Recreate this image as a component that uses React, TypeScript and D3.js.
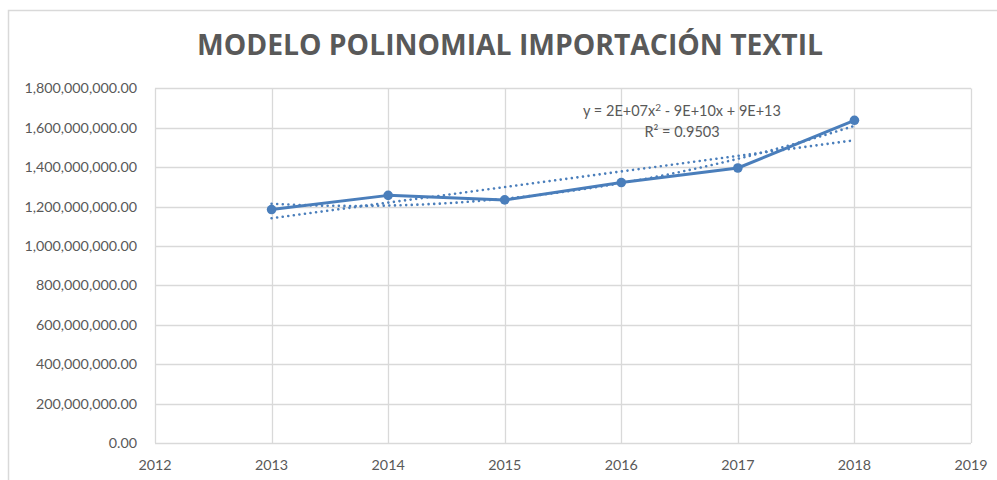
import React from "react";
import * as d3 from "d3";

const years = [2013, 2014, 2015, 2016, 2017, 2018];
const values = [1185e6, 1257e6, 1234e6, 1322e6, 1396e6, 1638e6];
const yTicks = [0, 200e6, 400e6, 600e6, 800e6, 1000e6, 1200e6, 1400e6, 1600e6, 1800e6];
const xTicks = [2012, 2013, 2014, 2015, 2016, 2017, 2018, 2019];
const title = "MODELO POLINOMIAL IMPORTACIÓN TEXTIL";
const equation = ["y = 2E+07x", "2", " - 9E+10x + 9E+13"];
const r2Text = "R² = 0.9503";

function solve3(A: number[][], b: number[]): number[] {
  const M = A.map((r, i) => [...r, b[i]]);
  const n = 3;
  for (let i = 0; i < n; i++) {
    let p = i;
    for (let k = i + 1; k < n; k++) if (Math.abs(M[k][i]) > Math.abs(M[p][i])) p = k;
    [M[i], M[p]] = [M[p], M[i]];
    for (let k = i + 1; k < n; k++) {
      const f = M[k][i] / M[i][i];
      for (let j = i; j <= n; j++) M[k][j] -= f * M[i][j];
    }
  }
  const x = [0, 0, 0];
  for (let i = n - 1; i >= 0; i--) {
    let s = M[i][n];
    for (let j = i + 1; j < n; j++) s -= M[i][j] * x[j];
    x[i] = s / M[i][i];
  }
  return x;
}

export default function App() {
  const W = 997, H = 480;
  const x = d3.scaleLinear().domain([2012, 2019]).range([155, 971]);
  const y = d3.scaleLinear().domain([0, 1800e6]).range([443, 88.4]);
  const fmt = d3.format(",.2f");
  const grey = "#595959";
  const blue = "#4A7EBB";
  const font = "Lato, 'Open Sans', sans-serif";

  const xs = years.map((v) => v - 2013);
  const mx = d3.mean(xs)!, my = d3.mean(values)!;
  const slope = d3.sum(xs.map((v, i) => (v - mx) * (values[i] - my))) / d3.sum(xs.map((v) => (v - mx) ** 2));
  const icpt = my - slope * mx;
  const S = (p: number) => d3.sum(xs.map((v) => v ** p));
  const T = (p: number) => d3.sum(xs.map((v, i) => v ** p * values[i]));
  const [c0, c1, c2] = solve3(
    [[S(0), S(1), S(2)], [S(1), S(2), S(3)], [S(2), S(3), S(4)]],
    [T(0), T(1), T(2)]
  );
  const samples = d3.range(0, 5.001, 0.05);
  const lineGen = d3.line<[number, number]>().x((d) => x(d[0] + 2013)).y((d) => y(d[1]));
  const linPath = lineGen(samples.map((t) => [t, icpt + slope * t]))!;
  const polyPath = lineGen(samples.map((t) => [t, c0 + c1 * t + c2 * t * t]))!;
  const dataPath = lineGen(years.map((yr, i) => [yr - 2013, values[i]]))!;

  return (
    <svg width={W} height={H} style={{ position: "absolute", left: 0, top: 0, display: "block", background: "#fff" }}>
      <rect x={8.5} y={10.5} width={W + 20} height={H + 20} fill="#fff" stroke="#d9d9d9" strokeWidth={1.5} />
      <text x={510} y={55} textAnchor="middle" fontFamily="'Open Sans', sans-serif" fontWeight={700} fontSize={29} fill={grey} textLength={626} lengthAdjust="spacingAndGlyphs">
        {title}
      </text>
      {yTicks.map((t) => (
        <g key={t}>
          <line x1={155} x2={971} y1={Math.round(y(t)) + 0.5} y2={Math.round(y(t)) + 0.5} stroke="#d9d9d9" strokeWidth={1.3} />
          <text x={137} y={y(t) + 5} textAnchor="end" fontFamily={font} fontSize={14.3} fill={grey}>
            {fmt(t)}
          </text>
        </g>
      ))}
      {xTicks.map((t) => (
        <g key={t}>
          <line x1={Math.round(x(t)) + 0.5} x2={Math.round(x(t)) + 0.5} y1={88.4} y2={443} stroke="#d9d9d9" strokeWidth={1.3} />
          <text x={x(t)} y={470} textAnchor="middle" fontFamily={font} fontSize={14.3} fill={grey}>
            {t}
          </text>
        </g>
      ))}
      <path d={dataPath} fill="none" stroke={blue} strokeWidth={3} strokeLinejoin="round" />
      {years.map((yr, i) => (
        <circle key={yr} cx={x(yr)} cy={y(values[i])} r={4.8} fill={blue} />
      ))}
      <path d={linPath} fill="none" stroke={blue} strokeWidth={2.6} strokeDasharray="0.01 5.6" strokeLinecap="round" />
      <path d={polyPath} fill="none" stroke={blue} strokeWidth={2.6} strokeDasharray="0.01 5.6" strokeLinecap="round" />
      <text x={682} y={116} textAnchor="middle" fontFamily={font} fontSize={14.5} fill={grey}>
        {equation[0]}
        <tspan dy={-5} fontSize={10}>{equation[1]}</tspan>
        <tspan dy={5}>{equation[2]}</tspan>
      </text>
      <text x={682} y={137} textAnchor="middle" fontFamily={font} fontSize={14.5} fill={grey}>
        {r2Text}
      </text>
    </svg>
  );
}
